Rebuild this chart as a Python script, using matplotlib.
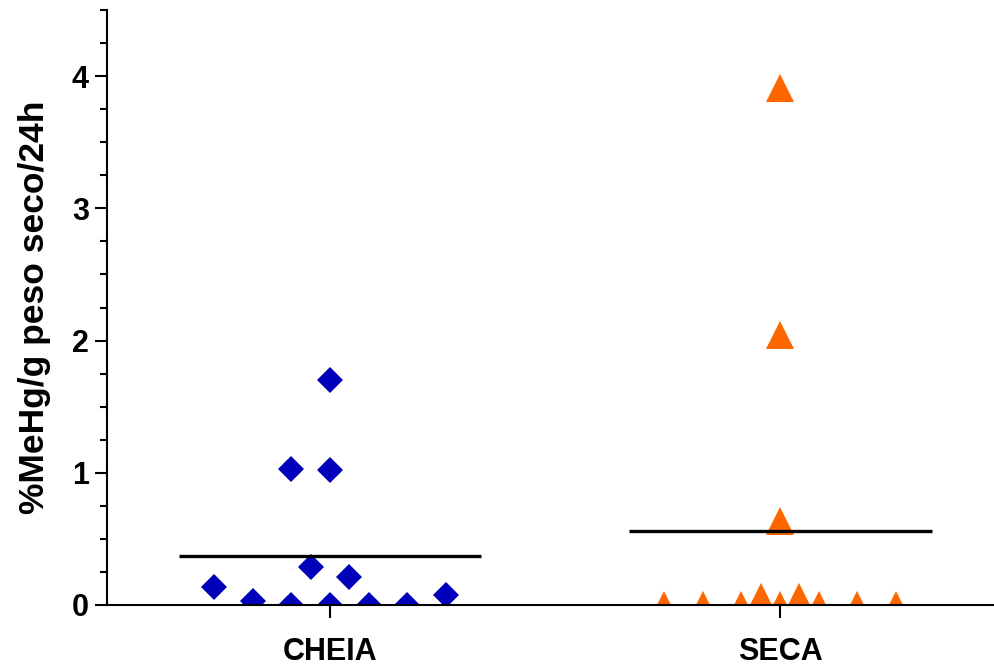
import matplotlib
matplotlib.use("Agg")
import matplotlib.pyplot as plt
import numpy as np

plt.rcParams['font.family'] = ['Liberation Sans', 'DejaVu Sans']
plt.rcParams['font.weight'] = 'bold'

groups = ["CHEIA", "SECA"]

# valores
cheia = [0.139, 0.033, 0.0, 1.03, 0.287, 1.70, 1.02, 0.0, 0.208, 0.0, 0.0, 0.075]
cheia_pos = [-6, -4, -2, -2, -1, 0, 0, 0, 1, 2, 4, 6]

seca = [0.0, 0.0, 0.0, 0.064, 3.91, 2.04, 0.635, 0.0, 0.057, 0.0, 0.0, 0.0]
seca_pos = [-6, -4, -2, -1, 0, 0, 0, 0, 1, 2, 4, 6]

y_ticks = [0, 1, 2, 3, 4]

step = 0.0429   # espaco horizontal entre pontos

fig = plt.figure(figsize=(9.95, 6.68), dpi=100)
ax = fig.add_axes([107/995, 63/668, 888/995, 595/668])

ax.plot(0 + np.array(cheia_pos)*step, cheia, linestyle='none', marker='D',
        markersize=13.6, markeredgewidth=0, color='#0000BB')
ax.plot(1 + np.array(seca_pos)*step, seca, linestyle='none', marker='^',
        markersize=19.5, markeredgewidth=0, color='#FF6600')

# medias
ax.hlines(np.mean(cheia), -0.335, 0.335, color='black', linewidth=2.4)
ax.hlines(np.mean(seca), 1 - 0.335, 1 + 0.338, color='black', linewidth=2.4)

ax.set_xlim(-0.4956, 1.4778)
ax.set_ylim(0, 4.5)
ax.set_xticks([0, 1])
ax.set_xticklabels(groups, fontsize=22, fontweight='bold')
ax.set_yticks(y_ticks)
ax.set_yticklabels([str(v) for v in y_ticks], fontsize=22, fontweight='bold')
ax.set_yticks(np.arange(0, 4.51, 0.25), minor=True)

ax.spines['top'].set_visible(False)
ax.spines['right'].set_visible(False)
ax.spines['left'].set_linewidth(1.5)
ax.spines['bottom'].set_linewidth(1.5)
ax.tick_params(axis='both', which='major', length=9, width=1.5, pad=4)
ax.tick_params(axis='x', which='major', pad=14)
ax.tick_params(axis='y', which='minor', length=5, width=1.5)

ax.set_ylabel("%MeHg/g peso seco/24h", fontsize=25.5, fontweight='bold', labelpad=15)

fig.savefig("out.png", dpi=100)
